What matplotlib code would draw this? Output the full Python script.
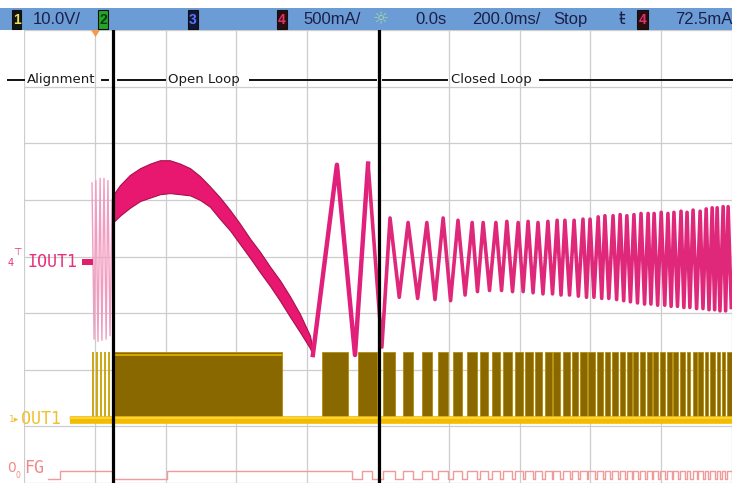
import matplotlib
matplotlib.use("Agg")
import matplotlib.pyplot as plt
from matplotlib.patches import Rectangle, Polygon

W, H = 740, 490

# ---------------- scope settings ----------------
X_MIN_MS, X_MAX_MS = -1000.0, 1000.0   # 200 ms/div, 10 div
T_DIV_MS = 200.0
Y_MIN_DIV, Y_MAX_DIV = -4.0, 4.0
I_PER_DIV = 0.5      # A/div  (channel 4, IOUT1)
V_PER_DIV = 10.0     # V/div  (channel 1, OUT1)
I_ZERO_DIV = -0.10
V_ZERO_DIV = -2.89
FG_LOW_DIV, FG_HIGH_DIV = -3.93, -3.78

header_labels = ["10.0V/", "500mA/", "0.0s", "200.0ms/", "Stop", "72.5mA"]
phase_names = ["Alignment", "Open Loop", "Closed Loop"]
phase_text_t = [-992, -593, 206]
phase_rule_t0 = [-1045, -780, -735, -362, 14, 458]
phase_rule_t1 = [-1000, -763, -602, -6, 195, 1000]
PHASE_DIV = 3.12
cursor_t = [-749, 3]

# ---------------- IOUT1 (A) ----------------
align_t = [-808, -802, -797, -791, -785, -780, -774, -768, -763, -757, -751]
align_i = [0.70, -0.68, 0.72, -0.70, 0.74, -0.69, 0.74, -0.68, 0.72, -0.65, 0.55]

hump_t = [-749, -729, -701, -672, -644, -616, -588, -559, -531, -503, -475, -446, -418,
          -390, -362, -333, -305, -277, -249, -220, -192, -184]
hump_hi = [0.59, 0.68, 0.77, 0.83, 0.87, 0.90, 0.90, 0.87, 0.83, 0.76, 0.67, 0.57, 0.46,
           0.34, 0.21, 0.09, -0.04, -0.16, -0.30, -0.46, -0.65, -0.78]
hump_lo = [0.35, 0.41, 0.48, 0.54, 0.57, 0.60, 0.61, 0.60, 0.59, 0.55, 0.49, 0.38, 0.28,
           0.16, 0.04, -0.09, -0.21, -0.34, -0.48, -0.62, -0.76, -0.83]

swing_t = [-184, -116, -65, -28]
swing_i = [-0.82, 0.86, -0.82, 0.87]

cl_start_t, cl_start_i = 11, -0.75
cl_peak_t = [34, 85, 138, 184, 226, 266, 297, 333, 364, 396, 424, 452, 480, 506, 528,
             554, 579, 599, 622, 641, 664, 684, 703, 723, 743, 763, 780, 800, 819, 836,
             856, 873, 890, 910, 927, 944, 958, 975, 989]
cl_peak_i = [0.39, 0.35, 0.35, 0.39, 0.37, 0.35, 0.35, 0.35, 0.36, 0.35, 0.36, 0.35, 0.36,
             0.37, 0.37, 0.37, 0.38, 0.38, 0.40, 0.41, 0.41, 0.42, 0.41, 0.42, 0.43, 0.43,
             0.43, 0.44, 0.43, 0.44, 0.45, 0.44, 0.46, 0.45, 0.47, 0.48, 0.48, 0.49, 0.49]
cl_trough_t = [60, 112, 161, 205, 246, 281, 315, 349, 380, 410, 438, 466, 493, 517, 541,
               566, 589, 610, 632, 652, 674, 694, 713, 733, 753, 771, 790, 810, 828, 846,
               864, 881, 900, 918, 935, 951, 966, 982, 998]
cl_trough_i = [-0.31, -0.32, -0.33, -0.34, -0.29, -0.26, -0.25, -0.25, -0.26, -0.26, -0.27,
               -0.28, -0.28, -0.29, -0.29, -0.30, -0.31, -0.31, -0.32, -0.32, -0.33, -0.34,
               -0.35, -0.36, -0.37, -0.37, -0.38, -0.38, -0.39, -0.39, -0.40, -0.40, -0.41,
               -0.41, -0.42, -0.42, -0.43, -0.43, -0.40]

# ---------------- OUT1 (V) ----------------
align_pulse_t = [-805, -794, -783, -771, -760]
PULSE_V = 12.0
BASE_V = 0.0
BLOCK_STRIPE_V = 11.5
out_start = [-749, -158, -57, 14, 71, 124, 170, 212, 251, 288, 322, 353, 387, 415, 444,
             472, 494, 523, 548, 571, 593, 619, 641, 661, 684, 703, 720, 740, 760, 777,
             797, 816, 833, 853, 873, 890, 904, 924, 938, 958, 972, 986]
out_end = [-271, -85, -3, 48, 99, 153, 198, 237, 280, 311, 345, 379, 410, 438, 463, 492,
           514, 542, 565, 590, 613, 636, 655, 678, 698, 718, 735, 754, 774, 791, 811, 831,
           848, 867, 881, 901, 918, 932, 952, 966, 980, 1000]
OUT_TRACE_T0 = -870

# ---------------- FG (logic) ----------------
fg_pre_t = [-932, -898, -749, -596, -73, -45, -17]
fg_pre_lvl = [0, 1, 0, 1, 0, 1, 0]

# ---------------- helpers ----------------
def i2div(a):
    return a / I_PER_DIV + I_ZERO_DIV

def v2div(v):
    return v / V_PER_DIV + V_ZERO_DIV

def fx(px):
    return px / W

def fy(py):
    return 1 - py / H

fig = plt.figure(figsize=(7.4, 4.9), dpi=100)
fig.patch.set_facecolor("white")
ax = fig.add_axes([fx(24), fy(483), (732 - 24) / W, (483 - 30) / H])
ax.set_xlim(X_MIN_MS, X_MAX_MS)
ax.set_ylim(Y_MIN_DIV, Y_MAX_DIV)
ax.axis("off")

# graticule
k = 0
while X_MIN_MS + k * T_DIV_MS <= X_MAX_MS + 1e-6:
    ax.axvline(X_MIN_MS + k * T_DIV_MS, color="#cdcdcd", lw=0.9, zorder=0)
    k += 1
for d in range(int(Y_MIN_DIV), int(Y_MAX_DIV) + 1):
    ax.axhline(d, color="#cdcdcd", lw=0.9, zorder=0)

# ---- OUT1 ----
widths = [e - s for s, e in zip(out_start, out_end)]
ax.bar(out_start, [(PULSE_V - BASE_V) / V_PER_DIV] * len(out_start), width=widths,
       bottom=v2div(BASE_V), align="edge", color="#8a6800", edgecolor="#b58c00",
       linewidth=0.6, zorder=2)
ax.vlines(align_pulse_t, v2div(BASE_V), v2div(PULSE_V), color="#c9a000", lw=1.3, zorder=2)
ax.plot([out_start[0] + 5, out_end[0] - 4], [v2div(BLOCK_STRIPE_V)] * 2, color="#d6a800",
        lw=1.4, zorder=2.5)
ax.plot([OUT_TRACE_T0, X_MAX_MS], [v2div(BASE_V)] * 2, color="#f2bd00", lw=5.5,
        solid_capstyle="butt", zorder=3)
ax.plot([OUT_TRACE_T0, X_MAX_MS], [v2div(BASE_V) + 0.04] * 2, color="#ffd84a", lw=1.2,
        zorder=3.1)

# ---- FG ----
fg_t = list(fg_pre_t)
fg_l = list(fg_pre_lvl)
for s, e in zip(out_start[3:], out_end[3:]):
    fg_t += [s, e]
    fg_l += [1, 0]
fg_t.append(X_MAX_MS)
fg_l.append(fg_l[-1])
fg_y = [FG_LOW_DIV + l * (FG_HIGH_DIV - FG_LOW_DIV) for l in fg_l]
ax.plot(fg_t, fg_y, drawstyle="steps-post", color="#f29a9a", lw=1.0, zorder=3)

# ---- IOUT1 ----
ax.plot(align_t, [i2div(a) for a in align_i], color="#f29cc0", lw=1.0, zorder=4)
ax.fill_between(hump_t, [i2div(a) for a in hump_lo], [i2div(a) for a in hump_hi],
                color="#e8176f", edgecolor="#a8104c", lw=0.8, zorder=4)
cl_t = [cl_start_t]
cl_i = [cl_start_i]
for tp, ip, tt, it in zip(cl_peak_t, cl_peak_i, cl_trough_t, cl_trough_i):
    cl_t += [tp, tt]
    cl_i += [ip, it]
ax.plot(swing_t, [i2div(a) for a in swing_i], color="#e0207a", lw=3.2, zorder=4)
ax.plot(swing_t[-1:] + cl_t, [i2div(a) for a in swing_i[-1:] + cl_i], color="#e0287a",
        lw=2.6, zorder=4)

# ---- cursors ----
for c in cursor_t:
    ax.axvline(c, color="black", lw=2.3, zorder=6)

# ---- phase annotations ----
for t0, t1 in zip(phase_rule_t0, phase_rule_t1):
    ax.plot([t0, t1], [PHASE_DIV, PHASE_DIV], color="#111111", lw=1.4, clip_on=False,
            zorder=5)
for name, t in zip(phase_names, phase_text_t):
    ax.text(t, PHASE_DIV, name, ha="left", va="center", fontsize=9.5,
            family="DejaVu Sans", color="#1a1a1a", zorder=5)

# ---------------- header bar ----------------
fig.patches.append(Rectangle((0, fy(30)), fx(732), (30 - 8) / H, transform=fig.transFigure,
                             facecolor="#6c9cd6", edgecolor="none", zorder=0))
hdr_y = fy(19.5)

def chbox(x0, x1, face, txt, tcol):
    fig.patches.append(Rectangle((fx(x0), fy(29)), fx(x1 - x0), (29 - 10) / H,
                                 transform=fig.transFigure, facecolor=face,
                                 edgecolor="#101010", lw=0.8, zorder=1))
    fig.text(fx((x0 + x1) / 2), hdr_y, txt, ha="center", va="center", fontsize=10,
             fontweight="bold", color=tcol, family="Liberation Sans", zorder=2)

chbox(12, 21, "#141414", "1", "#e6e35a")
chbox(98, 108, "#22a52a", "2", "#0b3d0b")
chbox(188, 198, "#0f1636", "3", "#5a78ff")
chbox(277, 287, "#2a0d10", "4", "#e0306a")
chbox(637, 648, "#2a0d10", "4", "#e0306a")

hdr_x = [33, 303, 415, 472, 553, 675]
for x, s in zip(hdr_x, header_labels):
    fig.text(fx(x), hdr_y, s, ha="left", va="center", fontsize=12,
             family="Liberation Sans", color="#1b2048")
fig.text(fx(381), hdr_y, "\u263c", ha="center", va="center", fontsize=13,
         family="DejaVu Sans", color="#a6d8a0")
fig.text(fx(622), hdr_y, "\u0167", ha="center", va="center", fontsize=12,
         family="DejaVu Sans", color="#1b2048")

# trigger position marker
fig.patches.append(Polygon([[fx(91), fy(30)], [fx(100), fy(30)], [fx(95.5), fy(37)]],
                           closed=True, transform=fig.transFigure, facecolor="#f39a4c",
                           edgecolor="none", zorder=3))

# ---------------- channel labels ----------------
fig.text(fx(8), fy(263), "4", ha="left", va="center", fontsize=7, color="#e8307e",
         family="DejaVu Sans")
fig.text(fx(13), fy(252), "\u22a4", ha="left", va="center", fontsize=7, color="#e8307e",
         family="DejaVu Sans")
fig.text(fx(27), fy(262), "IOUT1", ha="left", va="center", fontsize=12,
         family="DejaVu Sans Mono", color="#e8307e")
fig.patches.append(Rectangle((fx(82), fy(265)), fx(11), 6 / H, transform=fig.transFigure,
                             facecolor="#e0206e", edgecolor="none", zorder=3))
fig.text(fx(9), fy(420), "1\u25b8", ha="left", va="center", fontsize=6.5, color="#f0c030",
         family="DejaVu Sans")
fig.text(fx(21), fy(419), "OUT1", ha="left", va="center", fontsize=12,
         family="DejaVu Sans Mono", color="#f0c030")
fig.text(fx(7), fy(468), "0", ha="left", va="center", fontsize=10, color="#f08a8a",
         family="DejaVu Sans")
fig.text(fx(15), fy(475), "0", ha="left", va="center", fontsize=5.5, color="#f08a8a",
         family="DejaVu Sans")
fig.text(fx(24), fy(468), "FG", ha="left", va="center", fontsize=12,
         family="DejaVu Sans Mono", color="#f08a8a")

fig.savefig("out.png", dpi=100, facecolor="white")
